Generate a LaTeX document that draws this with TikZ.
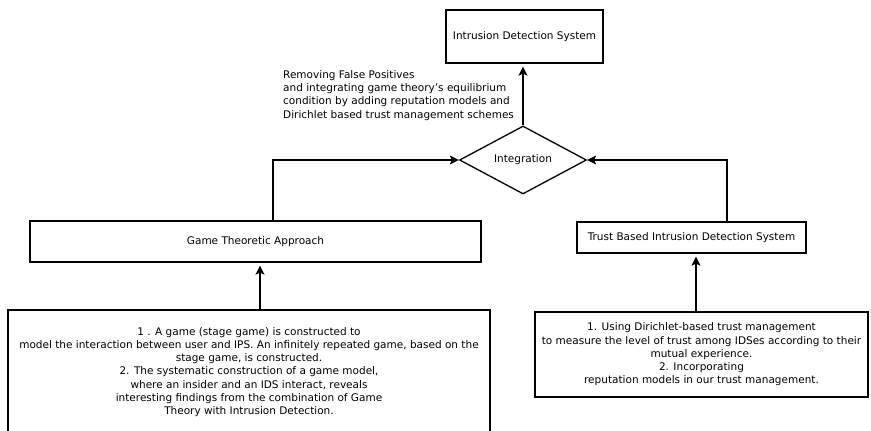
\documentclass[tikz,border=0pt]{standalone}
\usepackage{fontspec}
\setmainfont{DejaVu Sans}
\usetikzlibrary{shapes.geometric,arrows.meta}
\begin{document}
\begin{tikzpicture}[x=1pt,y=-1pt,
  font=\fontsize{10.5}{13.3}\selectfont,
  box/.style={draw, line width=1.3pt, inner sep=0pt, align=center},
  arr/.style={line width=1.3pt, -{Stealth[length=9pt,width=9pt,inset=2pt]}},
  vshort/.style={shorten >=3pt}]
\useasboundingbox (0,0) rectangle (871,431);
\clip (0,0) rectangle (871,431);
\node[box, minimum width=157, minimum height=53] (ids) at (524.5,36.5) {Intrusion Detection System};
\node[diamond, draw, line width=1.3pt, inner sep=0pt, minimum width=127, minimum height=66] (int) at (523,160) {Integration};
\node[anchor=north west, align=left, inner sep=0pt] (lbl) at (283,70) {Removing False Positives\\and integrating game theory's equilibrium\\condition by adding reputation models and\\Dirichlet based trust management schemes};
\node[box, minimum width=451, minimum height=41] (gta) at (255.5,241.5) {Game Theoretic Approach};
\node[box, minimum width=229, minimum height=31] (tb) at (691.5,237.5) {Trust Based Intrusion Detection System};
\node[box, minimum width=482, minimum height=124] (gd) at (249,372) {1 . A game (stage game) is constructed to\\model the interaction between user and IPS. An infinitely repeated game, based on the\\stage game, is constructed.\\2. The systematic construction of a game model,\\where an insider and an IDS interact, reveals\\interesting findings from the combination of Game\\Theory with Intrusion Detection.};
\node[box, minimum width=333, minimum height=85] (td) at (701.5,354.5) {1. Using Dirichlet-based trust management\\to measure the level of trust among IDSes according to their\\mutual experience.\\2. Incorporating\\reputation models in our trust management.};
\draw[arr, vshort] (int.north) -- (int.north |- ids.south);
\draw[arr] ([xshift=17.5pt]gta.north) |- (int.west);
\draw[arr] ([xshift=35.5pt]tb.north) |- (int.east);
\draw[arr, vshort] ([xshift=11pt]gd.north) -- ([xshift=4.5pt]gta.south);
\draw[arr, vshort] ([xshift=-5.5pt]td.north) -- ([xshift=4.5pt]tb.south);
\end{tikzpicture}
\end{document}
